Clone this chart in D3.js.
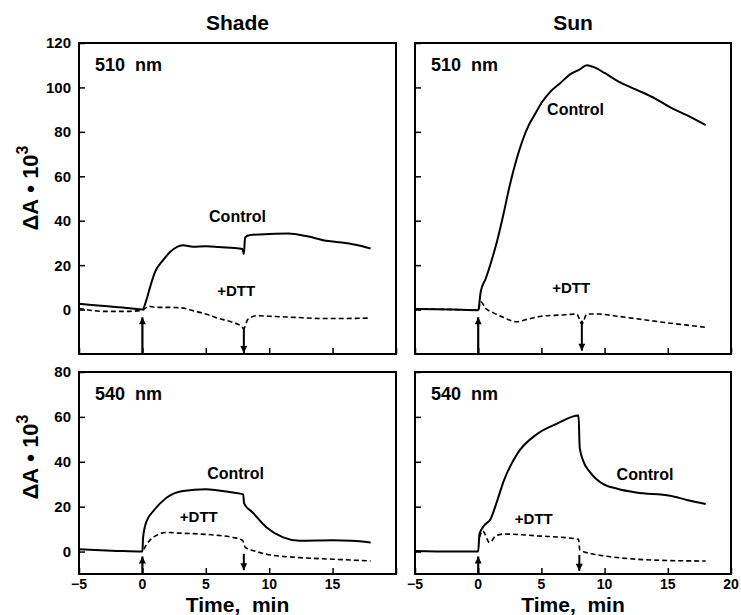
<!DOCTYPE html>
<html>
<head>
<meta charset="utf-8">
<script src="https://cdn.jsdelivr.net/npm/d3@7"></script>
<style>
  body { margin: 0; background: #fff; }
  svg text { font-family: "Liberation Sans", Arial, sans-serif; fill: #000; }
</style>
</head>
<body>
<div id="chart"></div>
<script>
// time axis + tick values
var timeTicks = [-5, 0, 5, 10, 15, 20];
var yTicksTop = [0, 20, 40, 60, 80, 100, 120];
var yTicksBottom = [0, 20, 40, 60, 80];

// traces: [time (min), dA*10^3]
var shade510Control = [[-5,2.6],[-3,1.6],[-1,0.6],[0,0],[0.3,4],[0.6,10],[1,17],[1.6,22],[2.2,26],[3.2,29],[4,28.3],[5,28.5],[6,28.2],[7,27.8],[7.9,27.3],[8,25],[8.1,32.5],[8.5,33.6],[10,34],[11.5,34.2],[13,33],[14.5,31],[16,30],[17,29],[18,27.5]];
var shade510Dtt = [[-5,0.5],[-3,-0.8],[-1,-0.8],[0,-0.3],[0.5,1.5],[1,1],[2,1],[3,0.8],[4,-0.5],[5,-2],[6,-4],[7,-5.5],[7.8,-7.5],[8,-8.5],[8.3,-4.5],[9,-2.8],[10,-3],[12,-3.5],[14,-4],[16,-4],[18,-3.8]];

var sun510Control = [[-5,0.3],[-2,0],[0,-0.3],[0.2,8],[0.6,14],[1,21],[1.5,31],[2,43],[2.5,56],[3,67],[3.5,76],[4,83],[4.5,88],[5,93],[5.7,98],[6.5,102],[7.3,106],[8,108],[8.6,110],[9.2,109],[10,106.5],[11,103],[12.5,99],[14,95],[15.2,91],[16.5,87.5],[18,83]];
var sun510Dtt = [[-5,0.3],[-2,0],[0,-0.3],[0.2,3.5],[0.6,0.5],[1.2,-1.5],[2,-3.5],[3,-5.5],[4,-4.2],[5,-3],[6,-2.6],[7,-2.3],[7.8,-2],[8.2,-6.5],[8.6,-2],[9.5,-2],[11,-3],[13,-4.5],[15,-6],[16.5,-7],[18,-8]];

var shade540Control = [[-5,1],[-2,0.3],[0,0],[0.05,6],[0.33,13.5],[0.86,18],[1.9,24],[3.2,27],[5,27.8],[6,27.2],[7.15,26.3],[7.95,25.5],[8.02,21.5],[8.7,17.4],[9.8,10.7],[11.1,6.3],[12.4,4.8],[15,5],[16.5,4.8],[18,4]];
var shade540Dtt = [[0.1,1],[0.5,4.5],[0.9,6.5],[1.9,8.5],[3,8.2],[4.6,7.8],[6,7.2],[7.15,6.3],[7.9,5],[8.1,2],[9,0],[9.8,-1.2],[12.4,-2.7],[15,-3.4],[18,-4.2]];

var sun540Control = [[-5,0.3],[-2,0],[0,0],[0.1,7.8],[0.46,11.5],[0.98,14.5],[1.5,22.6],[2.03,31.6],[3.08,43.5],[4.66,52.4],[6.2,56.9],[7.94,60.6],[8.03,46.4],[8.3,40.5],[8.86,35.3],[9.9,30],[11,28],[12.5,26.3],[15.2,24.9],[16.5,23],[18,21.2]];
var sun540Dtt = [[0.1,6.3],[0.35,9.2],[0.9,4],[1.4,7],[2.03,7.8],[4.66,7],[7.94,5.5],[8.03,0.8],[9,-1],[9.9,-1.9],[12.5,-3.4],[15,-4],[18,-4.2]];

var W = 741, H = 615;
var svg = d3.select("#chart").append("svg")
  .attr("width", W).attr("height", H);

svg.append("defs").append("marker")
  .attr("id", "head")
  .attr("markerUnits", "userSpaceOnUse")
  .attr("viewBox", "0 0 10 10")
  .attr("refX", 10).attr("refY", 5)
  .attr("markerWidth", 11).attr("markerHeight", 7)
  .attr("orient", "auto")
  .append("path").attr("d", "M0,0L10,5L0,10Z").attr("fill", "#000");

var cols = [{x0: 79, x1: 396, title: "Shade"}, {x0: 415, x1: 731, title: "Sun"}];
var rows = [
  {y0: 43, y1: 354, domain: [-20, 120], ticks: yTicksTop, wl: "510\u00a0\u00a0nm"},
  {y0: 372, y1: 574, domain: [-10, 80], ticks: yTicksBottom, wl: "540\u00a0\u00a0nm"}
];

var panels = [
  {c: 0, r: 0, control: shade510Control, dtt: shade510Dtt, up: [0, -20, -3.5], down: [8, -8.5, -19.5], cl: [7.5, 39.3], dl: [7.4, 6.3]},
  {c: 1, r: 0, control: sun510Control, dtt: sun510Dtt, up: [0, -20, -3.5], down: [8.2, -5, -18.5], cl: [7.7, 87.6], dl: [7.35, 7.4]},
  {c: 0, r: 1, control: shade540Control, dtt: shade540Dtt, up: [0, -10, -2.2], down: [8, -1, -8.3], cl: [7.35, 32.3], dl: [4.45, 13]},
  {c: 1, r: 1, control: sun540Control, dtt: sun540Dtt, up: [0, -10, -2.2], down: [8, -1.5, -8.6], cl: [13.2, 31.9], dl: [4.4, 12.5]}
];

panels.forEach(function(p) {
  var col = cols[p.c], row = rows[p.r];
  var x = d3.scaleLinear().domain([-5, 20]).range([col.x0, col.x1]);
  var y = d3.scaleLinear().domain(row.domain).range([row.y1, row.y0]);
  var g = svg.append("g");

  // ticks pointing inwards
  var yAxis = d3.axisRight(y).tickValues(row.ticks).tickSize(6).tickFormat("");
  g.append("g").attr("transform", "translate(" + col.x0 + ",0)").call(yAxis)
    .call(function(a) { a.select(".domain").remove(); a.selectAll("line").attr("stroke-width", 1.5); });
  var xAxis = d3.axisTop(x).tickValues(timeTicks).tickSize(6).tickFormat("");
  g.append("g").attr("transform", "translate(0," + row.y1 + ")").call(xAxis)
    .call(function(a) { a.select(".domain").remove(); a.selectAll("line").attr("stroke-width", 1.5); });

  // labels on the outside
  if (p.c == 0) {
    g.selectAll(".ylab").data(row.ticks).enter().append("text")
      .attr("x", col.x0 - 8).attr("y", function(d) { return y(d); })
      .attr("dy", "0.36em").attr("text-anchor", "end")
      .style("font-size", "15px").style("font-weight", "bold")
      .text(function(d) { return d; });
  }
  if (p.r == 1) {
    var xt = p.c == 0 ? timeTicks.slice(0, 5) : timeTicks;
    g.selectAll(".xlab").data(xt).enter().append("text")
      .attr("x", function(d) { return x(d); }).attr("y", row.y1 + 15)
      .attr("text-anchor", "middle")
      .style("font-size", "14px").style("font-weight", "bold")
      .text(function(d) { return d < 0 ? "\u2212" + (-d) : d; });
    g.append("text").attr("x", (col.x0 + col.x1) / 2).attr("y", 612)
      .attr("text-anchor", "middle")
      .style("font-size", "21px").style("font-weight", "bold")
      .text("Time,\u00a0\u00a0min");
  }

  var line = d3.line()
    .x(function(d) { return x(d[0]); })
    .y(function(d) { return y(d[1]); })
    .curve(d3.curveMonotoneX);

  g.append("path").datum(p.dtt).attr("d", line)
    .attr("fill", "none").attr("stroke", "#000").attr("stroke-width", 1.6)
    .attr("stroke-dasharray", "5,3");
  g.append("path").datum(p.control).attr("d", line)
    .attr("fill", "none").attr("stroke", "#000").attr("stroke-width", 2);

  // light on / off arrows
  g.append("line").attr("x1", x(p.up[0])).attr("x2", x(p.up[0]))
    .attr("y1", y(p.up[1])).attr("y2", y(p.up[2]))
    .attr("stroke", "#000").attr("stroke-width", 2.2).attr("marker-end", "url(#head)");
  g.append("line").attr("x1", x(p.down[0])).attr("x2", x(p.down[0]))
    .attr("y1", y(p.down[1])).attr("y2", y(p.down[2]))
    .attr("stroke", "#000").attr("stroke-width", 2).attr("marker-end", "url(#head)");

  g.append("text").attr("x", x(p.cl[0])).attr("y", y(p.cl[1]))
    .attr("text-anchor", "middle").style("font-size", "16px").style("font-weight", "bold")
    .text("Control");
  g.append("text").attr("x", x(p.dl[0])).attr("y", y(p.dl[1]))
    .attr("text-anchor", "middle").style("font-size", "15px").style("font-weight", "bold")
    .text("+DTT");
  g.append("text").attr("x", col.x0 + 16).attr("y", row.y0 + 28)
    .style("font-size", "18px").style("font-weight", "bold")
    .text(row.wl);

  // frame
  g.append("rect").attr("x", col.x0).attr("y", row.y0)
    .attr("width", col.x1 - col.x0).attr("height", row.y1 - row.y0)
    .attr("fill", "none").attr("stroke", "#000").attr("stroke-width", 2);
});

cols.forEach(function(c) {
  svg.append("text").attr("x", (c.x0 + c.x1) / 2).attr("y", 30)
    .attr("text-anchor", "middle").style("font-size", "21px").style("font-weight", "bold")
    .text(c.title);
});

rows.forEach(function(r, i) {
  var cy = i == 0 ? 188 : 457;
  var t = svg.append("text")
    .attr("transform", "translate(38," + cy + ") rotate(-90)")
    .attr("text-anchor", "middle")
    .style("font-size", "22px").style("font-weight", "bold");
  t.append("tspan").text("\u0394A\u00a0\u2022\u00a010");
  t.append("tspan").attr("dy", -10).style("font-size", "16px").text("3");
});
</script>
</body>
</html>
